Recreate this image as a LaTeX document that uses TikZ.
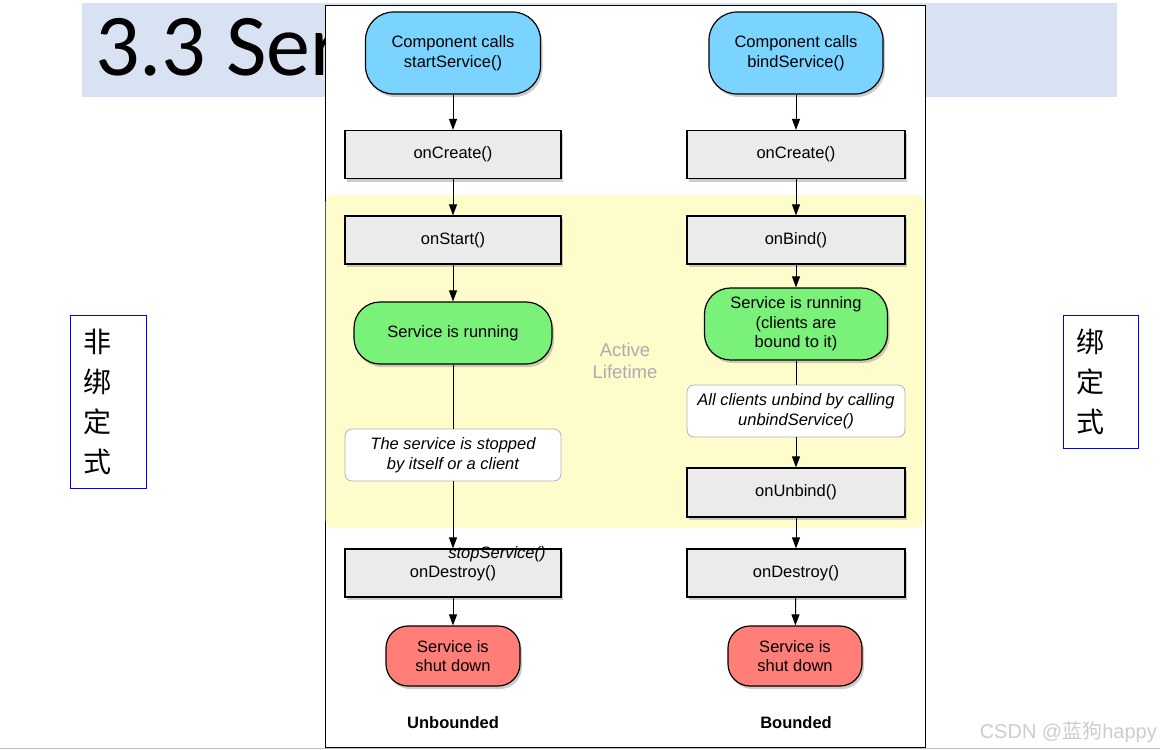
\documentclass[tikz,border=0pt]{standalone}
\usepackage{fontspec}
\setmainfont{Liberation Sans}
\newfontfamily\cjk{Noto Sans CJK SC}
\newfontfamily\titlefont{Carlito}
\usepackage{xcolor}
\usepackage{tikz}
\usetikzlibrary{arrows.meta,shadows,positioning}

\definecolor{bandblue}{RGB}{217,226,243}
\definecolor{callblue}{RGB}{122,212,255}
\definecolor{rungreen}{RGB}{122,242,122}
\definecolor{downred}{RGB}{255,126,120}
\definecolor{stepgray}{RGB}{235,235,235}
\definecolor{lifeyellow}{RGB}{255,252,204}

\tikzset{
  boxtext/.style={font=\fontsize{16.5}{19.5}\selectfont, align=center},
  callbox/.style={boxtext, draw, line width=1.2, fill=callblue, rounded corners=28, drop shadow={shadow xshift=2, shadow yshift=-3, opacity=0.4}},
  stepbox/.style={boxtext, draw, line width=1.2, fill=stepgray, minimum width=216, minimum height=48, drop shadow={shadow xshift=2, shadow yshift=-3, opacity=0.4}},
  runbox/.style={boxtext, draw, line width=1.2, fill=rungreen, rounded corners=26, drop shadow={shadow xshift=2, shadow yshift=-3, opacity=0.4}},
  notebox/.style={boxtext, draw=gray!60, line width=0.8, fill=white, rounded corners=7, minimum width=216, minimum height=52, font=\fontsize{16.5}{19.5}\selectfont\itshape},
  downbox/.style={boxtext, draw, line width=1.2, fill=downred, rounded corners=22, minimum width=134, minimum height=60, drop shadow={shadow xshift=2, shadow yshift=-3, opacity=0.4}},
  flow/.style={-{Triangle[width=8,length=11]}, line width=1},
  sidebox/.style={draw=blue, line width=1, align=left, inner xsep=13, font=\cjk\fontsize{28}{40}\selectfont},
}

\begin{document}
\begin{tikzpicture}[x=1pt,y=1pt,yscale=-1]
  \useasboundingbox (0,0) rectangle (1160,750);

  %Shape: Title band
  \fill [bandblue] (82,3) rectangle (1117,97);
  % Text Node
  \node (title) [anchor=base west, inner sep=0, font=\titlefont\fontsize{88}{88}\selectfont] at (95,75) {3.3 Ser};

  %Shape: Diagram frame
  \draw [fill=white, line width=0.8] (325,5) rectangle (925,747);
  %Shape: Active lifetime
  \fill [lifeyellow, rounded corners=8] (325.5,195) rectangle (924.5,528);
  \node (active) [text=gray!65, align=center, font=\fontsize{18.5}{22}\selectfont] at (625,361) {Active\\Lifetime};

  % Unbounded column
  \node (startcall) [callbox, minimum width=175, minimum height=82] at (453,53) {Component calls\\startService()};
  \node (createL) [stepbox] at (453,154.5) {onCreate()};
  \node (start) [stepbox] at (453,240) {onStart()};
  \node (runL) [runbox, minimum width=198, minimum height=62] at (453,333) {Service is running};
  \node (stopnote) [notebox] at (453,455) {The service is stopped\\by itself or a client};
  \node (destroyL) [stepbox] at (453,573) {onDestroy()};
  \node (stopcall) [inner sep=0, font=\fontsize{16.5}{18}\selectfont\itshape] at (497,554) {stopService()};
  \node (downL) [downbox] at (453,656) {Service is\\shut down};
  \node (unbounded) [font=\fontsize{16.5}{18}\selectfont\bfseries] at (453,723) {Unbounded};

  % Bounded column
  \node (bindcall) [callbox, minimum width=174, minimum height=82] at (796,53) {Component calls\\bindService()};
  \node (createR) [stepbox, minimum width=218] at (796,154.5) {onCreate()};
  \node (bind) [stepbox, minimum width=218] at (796,240) {onBind()};
  \node (runR) [runbox, minimum width=183, minimum height=72] at (796,324) {Service is running\\(clients are\\bound to it)};
  \node (unbindnote) [notebox, minimum width=218] at (796,411) {All clients unbind by calling\\unbindService()};
  \node (unbind) [stepbox, minimum width=218, minimum height=49] at (796,492.5) {onUnbind()};
  \node (destroyR) [stepbox, minimum width=218] at (796,573) {onDestroy()};
  \node (downR) [downbox] at (795,656) {Service is\\shut down};
  \node (bounded) [font=\fontsize{16.5}{18}\selectfont\bfseries] at (796,723) {Bounded};

  % Connectors
  \draw [flow] (startcall) -- (createL);
  \draw [flow] (createL) -- (start);
  \draw [flow] (start) -- (runL);
  \draw [line width=1] (runL) -- (stopnote);
  \draw [flow] (stopnote) -- (destroyL);
  \draw [flow] (destroyL) -- (downL);
  \draw [flow] (bindcall) -- (createR);
  \draw [flow] (createR) -- (bind);
  \draw [flow] (bind) -- (runR);
  \draw [line width=1] (runR) -- (unbindnote);
  \draw [flow] (unbindnote) -- (unbind);
  \draw [flow] (unbind) -- (destroyR);
  \draw [flow] (destroyR) -- (downR);

  % Side labels
  \node (unbindmode) [sidebox, text width=50, minimum height=173] at (108,401.5) {非\\绑\\定\\式};
  \node (bindmode) [sidebox, text width=49, minimum height=133] at (1100.5,381.5) {绑\\定\\式};

  % Watermark
  \node (mark) [anchor=base east, inner sep=0, text=gray!40, font=\fontsize{20}{22}\selectfont] at (1157,738) {CSDN @{\cjk 蓝狗}happy};
  \draw [gray!50, line width=1] (0,748.5) -- (1160,748.5);
\end{tikzpicture}
\end{document}
